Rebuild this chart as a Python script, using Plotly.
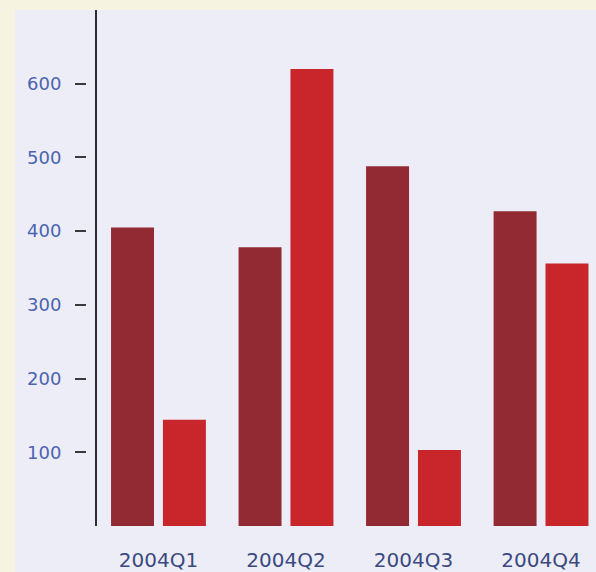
import plotly.graph_objects as go

categories = ["2004Q1", "2004Q2", "2004Q3", "2004Q4"]
series_a = [405, 378, 488, 427]
series_b = [144, 620, 103, 356]
y_ticks = [100, 200, 300, 400, 500, 600]

W, H = 596, 572
LAV = "#EDEDF7"
CREAM = "#F6F4E0"

fig = go.Figure()
fig.add_trace(go.Bar(x=categories, y=series_a, marker=dict(color="#922A33", line=dict(width=0)),
                     width=0.337, offset=-0.372, showlegend=False, yaxis="y"))
fig.add_trace(go.Bar(x=categories, y=series_b, marker=dict(color="#C8262B", line=dict(width=0)),
                     width=0.337, offset=0.035, showlegend=False, yaxis="y2"))

fig.update_layout(
    width=W, height=H,
    margin=dict(l=0, r=0, t=10, b=46),
    paper_bgcolor=CREAM,
    plot_bgcolor=LAV,
    hovermode=False,
    xaxis=dict(domain=[97 / W, 1], range=[-0.482, 3.431], showline=False, showgrid=False,
               zeroline=False, ticks="", tickfont=dict(family="DejaVu Sans", size=20, color="#3A4A80"),
               ticklabelstandoff=20),
    yaxis=dict(anchor="free", position=86 / W, range=[0, 700], tickvals=y_ticks,
               ticks="outside", ticklen=11, tickwidth=2, tickcolor="#3A3A3A",
               showline=False, showgrid=False, zeroline=False, ticklabelstandoff=10,
               tickfont=dict(family="DejaVu Sans", size=18, color="#4A64B0")),
    yaxis2=dict(overlaying="y", anchor="x", side="left", range=[0, 700],
                showline=True, linecolor="#2E2E2E", linewidth=2, showticklabels=False,
                ticks="", showgrid=False, zeroline=False),
    shapes=[dict(type="rect", xref="paper", yref="paper", x0=15 / W, x1=1,
                 y0=-46 / 516, y1=1, fillcolor=LAV, line=dict(width=0), layer="below")],
    font=dict(family="DejaVu Sans"),
)
fig.write_html("out.html", config={"displayModeBar": False},
               post_script="document.body.style.margin='0';document.body.style.overflow='hidden';")
